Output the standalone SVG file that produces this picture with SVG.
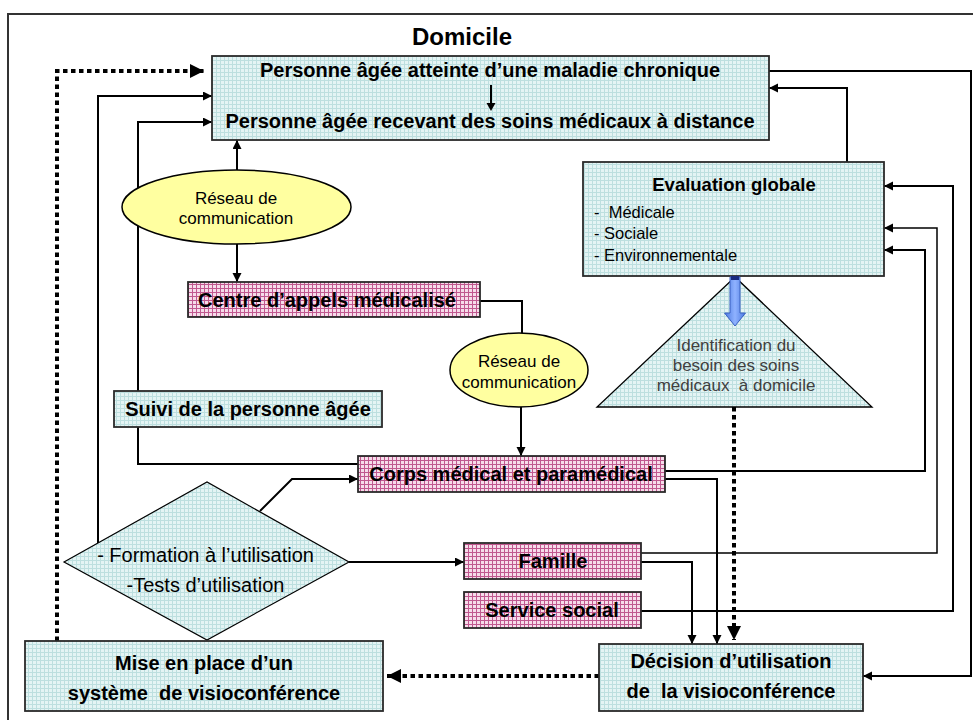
<svg xmlns="http://www.w3.org/2000/svg" width="973" height="720" viewBox="0 0 973 720">
<style>
text{font-family:"Liberation Sans",Arial,sans-serif;fill:#000;white-space:pre}
.b{font-weight:bold;font-size:20px}
.r{font-size:20px}
.s{font-size:17px}
.l{font-size:16.5px}
.t{font-size:17px;fill:#404040}
.m{text-anchor:middle}
.c{fill:none;stroke:#000;stroke-width:2}
.d{fill:none;stroke:#000;stroke-width:4;stroke-dasharray:4.5 3.5}
.bx{fill:url(#gc);stroke:#2a2a2a;stroke-width:1.8}
.pk{fill:url(#gp);stroke:#2a2a2a;stroke-width:1.8}
.el{fill:#ffffa0;stroke:#000;stroke-width:1.5}
</style>
<defs>
<pattern id="gc" width="4" height="4" patternUnits="userSpaceOnUse"><rect width="4" height="4" fill="#e4f4f4"/><path d="M0,0.5H4M0.5,0V4" stroke="#bddfdf" stroke-width="1"/></pattern>
<pattern id="gp" width="4" height="4" patternUnits="userSpaceOnUse"><rect width="4" height="4" fill="#f6dcea"/><path d="M0,0.5H4M0.5,0V4" stroke="#c0588f" stroke-width="1"/></pattern>
<linearGradient id="bl" x1="0" y1="0" x2="1" y2="0"><stop offset="0" stop-color="#4a78e0"/><stop offset="0.5" stop-color="#8fb2ff"/><stop offset="1" stop-color="#4a78e0"/></linearGradient>
<marker id="a" markerUnits="userSpaceOnUse" markerWidth="10" markerHeight="10" refX="9" refY="4.5" orient="auto"><path d="M0,0L9,4.5L0,9z" fill="#000"/></marker>
<marker id="A" markerUnits="userSpaceOnUse" markerWidth="16" markerHeight="16" refX="14" refY="7" orient="auto"><path d="M0,0L14,7L0,14z" fill="#000"/></marker>
</defs>
<rect x="8" y="14" width="990" height="730" fill="#fff" stroke="#333" stroke-width="2"/>
<text class="b m" x="462" y="45" style="font-size:24px">Domicile</text>
<g id="connectors">
<path class="d" d="M57,641V71H204" marker-end="url(#A)"/>
<path class="c" d="M98,543V96H212" marker-end="url(#a)"/>
<path class="c" d="M358,464H138V122H212" marker-end="url(#a)"/>
<path class="c" d="M237,170V140" marker-end="url(#a)"/>
<path class="c" d="M491,85V111" marker-end="url(#a)"/>
<path class="c" d="M237,244V282" marker-end="url(#a)"/>
<path class="c" d="M480,301H522V333"/>
<path class="c" d="M521,407V456" marker-end="url(#a)"/>
<path class="c" d="M260,511L292,479H358" marker-end="url(#a)"/>
<path class="c" d="M349,562H464" marker-end="url(#a)"/>
<path class="c" d="M665,471H925V250H884" marker-end="url(#a)"/>
<path class="c" d="M641,553H937V228H884" style="stroke-width:1.5" marker-end="url(#a)"/>
<path class="c" d="M641,611H953V186H884" marker-end="url(#a)"/>
<path class="c" d="M665,479H717V644" marker-end="url(#a)"/>
<path class="c" d="M641,562H692V644" marker-end="url(#a)"/>
<path class="d" d="M734,407V640" marker-end="url(#A)"/>
<path class="d" d="M599,676H387" marker-end="url(#A)"/>
<path class="c" d="M769,71H971V676H863" marker-end="url(#a)"/>
<path class="c" d="M847,162V88H769" marker-end="url(#a)"/>
</g>
<g id="n-personne">
<rect class="bx" x="212" y="56" width="557" height="84"/>
<text class="b m" x="490" y="77">Personne âgée atteinte d’une maladie chronique</text>
<text class="b m" x="490" y="128">Personne âgée recevant des soins médicaux à distance</text>
<path class="c" d="M491,85V104"/>
<path d="M486.5,103L491,111L495.5,103z" fill="#000"/>
</g>
<g id="n-reseau1">
<ellipse class="el" cx="236.5" cy="207" rx="114.5" ry="37"/>
<text class="s m" x="236" y="204">Réseau de</text>
<text class="s m" x="236" y="224">communication</text>
</g>
<g id="n-centre">
<rect class="pk" x="188" y="282" width="292" height="35"/>
<text class="b m" x="327" y="307">Centre d’appels médicalisé</text>
</g>
<g id="n-reseau2">
<ellipse class="el" cx="519" cy="370" rx="69" ry="37"/>
<text class="s m" x="519" y="367">Réseau de</text>
<text class="s m" x="519" y="388">communication</text>
</g>
<g id="n-suivi">
<rect class="bx" x="114" y="391" width="268" height="36"/>
<text class="b m" x="248" y="416">Suivi de la personne âgée</text>
</g>
<g id="n-corps">
<rect class="pk" x="358" y="456" width="307" height="36"/>
<text class="b m" x="511" y="481">Corps médical et paramédical</text>
</g>
<g id="n-formation">
<polygon points="64,562 207,482 349,562 207,640" fill="url(#gc)" stroke="#000" stroke-width="1.2"/>
<text class="r m" x="205.5" y="562">- Formation à l’utilisation</text>
<text class="r m" x="205.5" y="592">-Tests d’utilisation</text>
</g>
<g id="n-famille">
<rect class="pk" x="464" y="543" width="177" height="36"/>
<text class="b m" x="553" y="568">Famille</text>
</g>
<g id="n-service">
<rect class="pk" x="464" y="592" width="177" height="36"/>
<text class="b m" x="552" y="617">Service social</text>
</g>
<g id="n-evaluation">
<rect class="bx" x="583" y="162" width="301" height="114"/>
<text class="m" x="734" y="191" style="font-weight:bold;font-size:18.5px">Evaluation globale</text>
<text class="l" x="594" y="218">-  Médicale</text>
<text class="l" x="594" y="239">- Sociale</text>
<text class="l" x="594" y="261">- Environnementale</text>
</g>
<g id="n-identification">
<polygon points="735,277 597,407 872,407" fill="url(#gc)" stroke="#000" stroke-width="1.3"/>
<path d="M730,277H740V313H745.5L735,326L724.5,313H730z" fill="url(#bl)" stroke="#3a60c0" stroke-width="1"/>
<rect x="731" y="276" width="8" height="4" fill="#1a2a80"/>
<text class="t m" x="736" y="351">Identification du</text>
<text class="t m" x="736" y="371">besoin des soins</text>
<text class="t m" x="736" y="391">médicaux  à domicile</text>
</g>
<g id="n-mise">
<rect class="bx" x="25" y="641" width="358" height="70"/>
<text class="b m" x="204" y="670">Mise en place d’un</text>
<text class="b m" x="204" y="700">système  de visioconférence</text>
</g>
<g id="n-decision">
<rect class="bx" x="599" y="644" width="264" height="67"/>
<text class="b m" x="731" y="668">Décision d’utilisation</text>
<text class="b m" x="731" y="698">de  la visioconférence</text>
</g>
</svg>
